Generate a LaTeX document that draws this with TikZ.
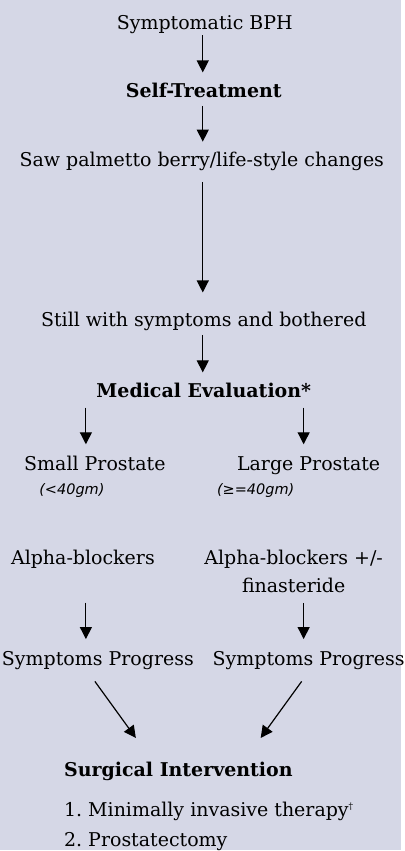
\documentclass[tikz,border=0pt]{standalone}
\usepackage{fontspec}
\setmainfont{DejaVu Serif}
\newfontfamily\notefont{DejaVu Sans}
\usetikzlibrary{arrows.meta}
\definecolor{bgc}{RGB}{213,215,230}
\tikzset{
 txt/.style={anchor=base,inner sep=0pt,text height=14pt,text depth=5pt,font=\fontsize{19}{28}\selectfont\frenchspacing},
 bld/.style={txt,font=\fontsize{19}{28}\selectfont\bfseries},
 note/.style={anchor=base,inner sep=0pt,font=\fontsize{14.5}{16}\selectfont\notefont\itshape},
 arr/.style={-{Triangle[length=12pt,width=12pt]},line width=1.2pt,shorten <=3pt,shorten >=11pt}
}

\begin{document}
\begin{tikzpicture}[x=1pt,y=-1pt]
\fill[bgc] (0,0) rectangle (401,851);
\coordinate (mid) at (203,0);
\coordinate (lcol) at (86,0);
\coordinate (rcol) at (304,0);
% main column
\node[txt] (sym) at (205,30) {Symptomatic BPH};
\node[bld] (self) at (204,97.7) {Self-Treatment};
\node[txt] (saw) at (202,167) {Saw palmetto berry/life-style changes};
\node[txt] (still) at (204,327) {Still with symptoms and bothered};
\node[bld] (eval) at (204,398) {Medical Evaluation*};
% two branches
\node[txt] (small) at (95,471) {Small Prostate};
\node[txt] (large) at (309,471) {Large Prostate};
\node[note] (lsz) at (72,495) {(<40gm)};
\node[note] (hsz) at (256,495) {(≥=40gm)};
\node[txt] (alpha) at (83,565) {Alpha-blockers};
\node[anchor=base,inner sep=0pt,align=center,font=\fontsize{19}{28}\selectfont] (alphaf) at (294,593) {Alpha-blockers +/-\\finasteride};
\node[txt] (lprog) at (98,666) {Symptoms Progress};
\node[txt] (rprog) at (309,666) {Symptoms Progress};
% surgery
\node[bld,anchor=base west] (surg) at (64,777) {Surgical Intervention};
\node[txt,anchor=base west] (ls1) at (64,817) {1. Minimally invasive therapy\textsuperscript{\fontsize{9}{9}\selectfont †}};
\node[txt,anchor=base west] (ls2) at (64,847) {2. Prostatectomy};

\draw[arr,shorten <=0pt] (sym.south -| mid) -- (self.north -| mid);
\draw[arr] (self.south -| mid) -- (saw.north -| mid);
\draw[arr,shorten <=10pt,shorten >=20pt] (saw.south -| mid) -- (still.north -| mid);
\draw[arr] (still.south -| mid) -- (eval.north -| mid);
\draw[arr,shorten <=5pt,shorten >=12pt] (eval.south -| lcol) -- (small.north -| lcol);
\draw[arr,shorten <=5pt,shorten >=12pt] (eval.south -| rcol) -- (large.north -| rcol);
\draw[arr,shorten <=33pt,shorten >=12pt] (alpha.south -| lcol) -- (lprog.north -| lcol);
\draw[arr,shorten <=10pt,shorten >=12pt] (alphaf.south -| rcol) -- (rprog.north -| rcol);
\draw[arr,shorten <=0pt,shorten >=0pt] ([xshift=-3pt,yshift=-11pt]lprog.south) -- ([xshift=72pt,yshift=24pt]surg.north west);
\draw[arr,shorten <=0pt,shorten >=0pt] ([xshift=-7pt,yshift=-11pt]rprog.south) -- ([xshift=197pt,yshift=24pt]surg.north west);
\end{tikzpicture}
\end{document}
